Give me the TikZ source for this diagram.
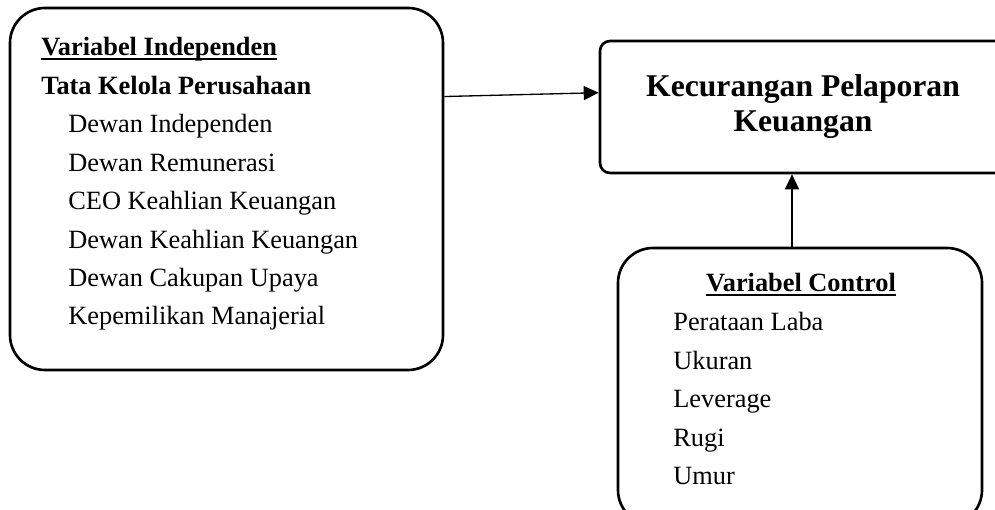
\documentclass[tikz,border=0pt]{standalone}
\usepackage{fontspec}
\setmainfont{Liberation Serif}
\usetikzlibrary{arrows.meta,positioning}

\newcommand{\ulword}[1]{\setbox0\hbox{#1}\rlap{\rule[-0.08cm]{\wd0}{0.03cm}}\box0}

\begin{document}
\begin{tikzpicture}[font=\fontsize{15}{21.9}\selectfont,
  varbox/.style={draw,line width=1.5pt,rounded corners=0.7cm,inner sep=0pt},
  depbox/.style={draw,line width=1.5pt,rounded corners=0.2cm,align=center,inner sep=0pt,
                 font=\fontsize{18}{19.9}\selectfont\bfseries},
  list/.style={align=left,inner sep=0pt,anchor=base west},
  arr/.style={-{Triangle[length=0.3cm,width=0.28cm]},line width=0.75pt}]
  \useasboundingbox (0,0) rectangle (19.9,-10.2);
  \clip (0,0) rectangle (19.9,-10.2);
  % boxes
  \node[varbox,minimum width=8.66cm,minimum height=7.24cm] (indep) at (4.53,-3.78) {};
  \node[depbox,minimum width=8.12cm,minimum height=2.64cm] (kpk) at (16.06,-2.14)
    {Kecurangan Pelaporan\\Keuangan};
  \node[varbox,minimum width=7.28cm,minimum height=5.54cm] (ctrl) at (16.0,-7.73) {};
  % texts (anchored at the baseline of the last line)
  \node[list] (indeptxt) at (0.82,-6.50)
    {\ulword{\textbf{Variabel Independen}}\\
     \textbf{Tata Kelola Perusahaan}\\
     \hspace*{0.54cm}Dewan Independen\\
     \hspace*{0.54cm}Dewan Remunerasi\\
     \hspace*{0.54cm}CEO Keahlian Keuangan\\
     \hspace*{0.54cm}Dewan Keahlian Keuangan\\
     \hspace*{0.54cm}Dewan Cakupan Upaya\\
     \hspace*{0.54cm}Kepemilikan Manajerial};
  \node[anchor=base,inner sep=0pt] (ctrltitle) at (16.02,-5.84) {\ulword{\textbf{Variabel Control}}};
  \node[list] (ctrltxt) at (13.46,-9.69) {Perataan Laba\\Ukuran\\Leverage\\Rugi\\Umur};
  % arrows
  \draw[arr] (indep.23) -- (kpk.176);
  \draw[arr] ([xshift=-0.16cm]ctrl.north) -- ([xshift=-0.16cm]ctrl.north |- kpk.south);
\end{tikzpicture}
\end{document}
